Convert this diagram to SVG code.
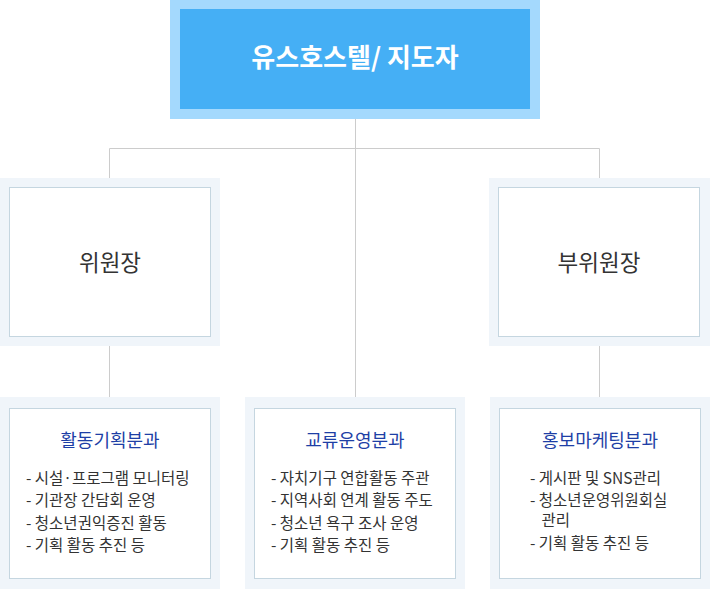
<svg xmlns="http://www.w3.org/2000/svg" width="710" height="590" viewBox="0 0 710 590">
<style>
text{font-family:"Noto Sans CJK KR","Noto Sans",sans-serif;}
.outer{fill:#f0f5fa;}
.inner{fill:#ffffff;stroke:#c5d6e0;stroke-width:1;}
.mid{font-size:22.5px;fill:#333;text-anchor:middle;}
.title{font-size:18px;fill:#1e3fa6;text-anchor:middle;}
.item{font-size:15.5px;fill:#333;}
.conn{fill:none;stroke:#cccccc;stroke-width:1;}
</style>
<g id="connectors">
<path class="conn" d="M355.5 119V397M109.5 178V148.5H599.5V178M109.5 346V397M599.5 346V397"/>
</g>
<g id="top">
<rect x="170" y="0" width="370" height="119" fill="#a4d9fd"/>
<rect x="180" y="9" width="350" height="100" fill="#45aff5"/>
<text x="355" y="66.5" font-size="26" font-weight="bold" fill="#fff" text-anchor="middle">유스호스텔/ 지도자</text>
</g>
<g id="chair">
<rect class="outer" x="0" y="178" width="220" height="168"/>
<rect class="inner" x="9.5" y="187.5" width="201" height="149"/>
<text class="mid" x="110" y="271">위원장</text>
</g>
<g id="vice">
<rect class="outer" x="489" y="178" width="221" height="168"/>
<rect class="inner" x="498.5" y="187.5" width="201" height="149"/>
<text class="mid" x="599" y="271">부위원장</text>
</g>
<g id="activity">
<rect class="outer" x="0" y="397" width="220" height="192"/>
<rect class="inner" x="9.5" y="408.5" width="201" height="170"/>
<text class="title" x="110" y="447">활동기획분과</text>
<text class="item" x="26" y="483.5">- 시설·프로그램 모니터링</text>
<text class="item" x="26" y="506">- 기관장 간담회 운영</text>
<text class="item" x="26" y="528.5">- 청소년권익증진 활동</text>
<text class="item" x="26" y="551">- 기획 활동 추진 등</text>
</g>
<g id="exchange">
<rect class="outer" x="245" y="397" width="220" height="192"/>
<rect class="inner" x="254.5" y="408.5" width="201" height="170"/>
<text class="title" x="355" y="447">교류운영분과</text>
<text class="item" x="271" y="483.5">- 자치기구 연합활동 주관</text>
<text class="item" x="271" y="506">- 지역사회 연계 활동 주도</text>
<text class="item" x="271" y="528.5">- 청소년 욕구 조사 운영</text>
<text class="item" x="271" y="551">- 기획 활동 추진 등</text>
</g>
<g id="promo">
<rect class="outer" x="490" y="397" width="220" height="192"/>
<rect class="inner" x="499.5" y="408.5" width="201" height="170"/>
<text class="title" x="600" y="447">홍보마케팅분과</text>
<text class="item" x="530" y="483.5">- 게시판 및 SNS관리</text>
<text class="item" x="530" y="505.5">- 청소년운영위원회실</text>
<text class="item" x="541.5" y="525.5">관리</text>
<text class="item" x="530" y="549">- 기획 활동 추진 등</text>
</g>
</svg>
